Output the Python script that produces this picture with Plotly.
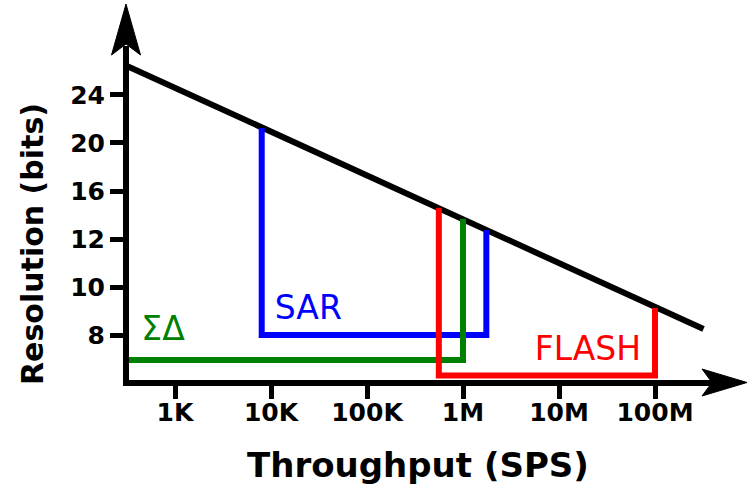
import plotly.graph_objects as go

# ---- data ----
x_tick_vals = [1e3, 1e4, 1e5, 1e6, 1e7, 1e8]
x_tick_text = ["1K", "10K", "100K", "1M", "10M", "100M"]
y_tick_vals = [1, 2, 3, 4, 5, 6]
y_tick_text = ["8", "10", "12", "16", "20", "24"]

limit_x = [320, 3.2e8]
limit_y = [6.60, 1.125]

sar_x = [8.0e3, 8.0e3, 1.75e6, 1.75e6]
sar_y = [5.31, 1.0, 1.0, 3.19]

sd_x = [330, 1.0e6, 1.0e6]
sd_y = [0.48, 0.48, 3.42]

flash_x = [5.6e5, 5.6e5, 1.0e8, 1.0e8]
flash_y = [3.65, 0.156, 0.156, 1.56]

label_text = ["SAR", "ΣΔ", "FLASH"]
label_x = [2.45e4, 750, 2.0e7]
label_y = [1.50, 1.06, 0.65]
label_color = ["#0000ff", "#008000", "#ff0000"]

# ---- figure ----
W, H = 747, 484
ML, MR, MT, MB = 126, 0, 0, 101
PW, PH = W - ML - MR, H - MT - MB
XR = [2.4896, 8.9583]
YR = [0.0, 7.979]

def px(x):
    return (x - ML) / PW

def py(y):
    return (H - MB - y) / PH

fig = go.Figure()
fig.add_trace(go.Scatter(x=limit_x, y=limit_y, mode="lines",
                         line=dict(color="black", width=6), hoverinfo="skip"))
fig.add_trace(go.Scatter(x=sar_x, y=sar_y, mode="lines",
                         line=dict(color="#0000ff", width=6), hoverinfo="skip"))
fig.add_trace(go.Scatter(x=sd_x, y=sd_y, mode="lines",
                         line=dict(color="#008000", width=6), hoverinfo="skip"))
fig.add_trace(go.Scatter(x=flash_x, y=flash_y, mode="lines",
                         line=dict(color="#ff0000", width=6), hoverinfo="skip"))
fig.add_trace(go.Scatter(x=label_x, y=label_y, mode="text", text=label_text,
                         textposition="middle center",
                         textfont=dict(family="DejaVu Sans", size=33, color=label_color),
                         hoverinfo="skip"))

tickfont = dict(family="DejaVu Sans", size=25, color="black", weight="bold")

fig.update_layout(
    xaxis=dict(type="log", range=XR, tickvals=x_tick_vals, ticktext=x_tick_text,
               ticks="outside", ticklen=7, tickwidth=5, tickcolor="black",
               showgrid=False, zeroline=False, showline=False, tickfont=tickfont),
    xaxis2=dict(type="log", range=XR, tickvals=x_tick_vals, overlaying="x",
                anchor="y", side="bottom", showticklabels=False,
                ticks="outside", ticklen=15, tickwidth=5, tickcolor="black",
                showgrid=False, zeroline=False, showline=False),
    yaxis=dict(range=YR, tickvals=y_tick_vals, ticktext=y_tick_text,
               ticks="outside", ticklen=15, tickwidth=5, tickcolor="black",
               showgrid=False, zeroline=False, showline=False, tickfont=tickfont),
)
# invisible trace to activate the overlay axis that carries the long tick marks
fig.add_trace(go.Scatter(x=[1e3], y=[1], xaxis="x2", mode="markers",
                         marker=dict(opacity=0), hoverinfo="skip"))

shapes = []
shapes.append(dict(type="line", xref="paper", yref="paper",
                   x0=px(126), x1=px(126), y0=py(386), y1=py(46),
                   line=dict(color="black", width=6)))
shapes.append(dict(type="path", xref="paper", yref="paper",
                   path=f"M {px(126)} {py(4)} L {px(140.5)} {py(55)} L {px(126)} {py(44)} "
                        f"L {px(111.5)} {py(55)} Z",
                   fillcolor="black", line=dict(color="black", width=1)))
shapes.append(dict(type="line", xref="paper", yref="paper",
                   x0=px(123), x1=px(712), y0=py(383), y1=py(383),
                   line=dict(color="black", width=6)))
shapes.append(dict(type="path", xref="paper", yref="paper",
                   path=f"M {px(747)} {py(382.5)} L {px(702)} {py(369)} L {px(712)} {py(382.5)} "
                        f"L {px(702)} {py(396)} Z",
                   fillcolor="black", line=dict(color="black", width=1)))

annotations = [
    dict(text="<b>Throughput (SPS)</b>", xref="paper", yref="paper",
         x=px(418), y=py(465), xanchor="center", yanchor="middle", showarrow=False,
         font=dict(family="DejaVu Sans", size=34, color="black")),
    dict(text="<b>Resolution (bits)</b>", xref="paper", yref="paper",
         x=px(32), y=py(244), xanchor="center", yanchor="middle", showarrow=False,
         textangle=-90, font=dict(family="DejaVu Sans", size=30, color="black")),
]

fig.update_layout(width=W, height=H, margin=dict(l=ML, r=MR, t=MT, b=MB),
                  paper_bgcolor="white", plot_bgcolor="white", showlegend=False,
                  shapes=shapes, annotations=annotations)

fig.write_html("out.html")
